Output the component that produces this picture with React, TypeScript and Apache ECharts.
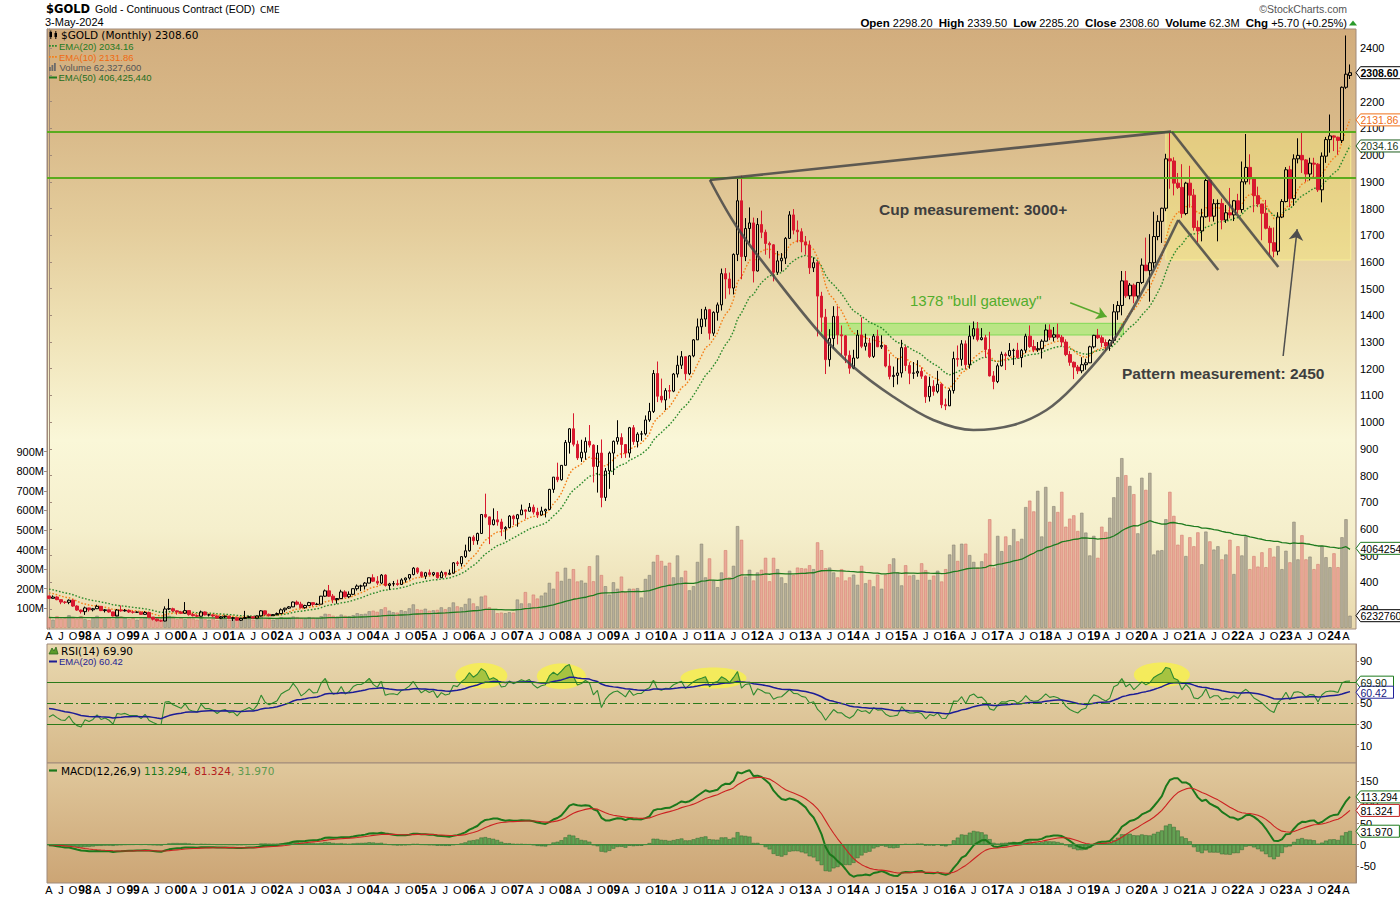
import React, { useEffect, useRef } from "react";
import * as echarts from "echarts";

// ---------- DATA (monthly, $GOLD continuous contract) ----------
// each bar: [open, high, low, close]
type Bar = [number, number, number, number];

const gold1997: Bar[] = [[349,349,337,340],[340,351,339,345],[345,348,333,335],[335,336,318,326],[326,330,319,325],[325,336,318,333],[333,336,308,311],[311,314,293,296],[296,298,283,290]];
const gold1998: Bar[] = [[290,309,278,304],[304,305,290,297],[297,304,291,301],[301,316,300,310],[310,311,292,294],[294,300,287,297],[297,298,286,289],[289,290,272,274],[274,300,273,296],[296,313,290,293],[293,300,290,295],[295,298,285,289]];
const gold1999: Bar[] = [[289,293,283,288],[288,291,285,288],[288,291,278,280],[280,292,279,287],[287,290,267,269],[269,270,257,262],[262,264,253,256],[256,260,252,255],[255,310,254,300],[300,338,296,301],[301,305,289,293],[293,295,279,289]];
const gold2000: Bar[] = [[289,293,281,284],[284,326,282,294],[294,294,275,279],[279,285,272,275],[275,280,270,273],[273,294,272,289],[289,291,276,278],[278,282,272,278],[278,279,269,274],[274,276,264,266],[266,274,263,271],[271,276,266,273]];
const gold2001: Bar[] = [[273,273,262,266],[266,270,255,267],[267,268,256,258],[258,267,255,265],[265,293,264,268],[268,275,266,271],[271,273,264,266],[266,276,265,274],[274,296,272,293],[293,294,276,280],[280,283,272,275],[275,281,274,279]];
const gold2002: Bar[] = [[279,287,277,283],[283,302,282,297],[297,305,288,303],[303,311,300,308],[308,328,307,326],[326,332,314,318],[318,327,302,305],[305,316,301,313],[313,327,311,324],[324,325,310,317],[317,323,315,318],[318,349,318,348]];
const gold2003: Bar[] = [[348,373,346,368],[368,390,345,348],[348,356,322,335],[335,341,320,339],[339,372,337,364],[364,370,343,346],[346,366,341,355],[355,377,352,376],[376,392,369,386],[386,391,367,386],[386,401,373,397],[397,418,397,417]];
const gold2004: Bar[] = [[417,430,401,404],[404,423,390,397],[397,431,393,427],[427,430,384,388],[388,398,372,394],[394,405,385,395],[395,410,387,392],[392,415,390,409],[409,418,399,416],[416,430,410,429],[429,457,426,453],[453,456,431,438]];
const gold2005: Bar[] = [[438,440,417,423],[423,439,412,436],[436,448,425,429],[429,439,423,436],[436,437,414,417],[417,443,416,437],[437,439,418,430],[430,448,428,434],[434,476,433,473],[473,480,461,470],[470,497,459,496],[496,541,491,518]];
const gold2006: Bar[] = [[518,570,515,569],[569,576,540,556],[556,586,541,583],[583,655,582,654],[654,732,640,645],[645,646,543,616],[616,677,613,634],[634,667,612,626],[626,638,573,600],[600,610,560,605],[605,652,603,648],[648,653,614,638]];
const gold2007: Bar[] = [[638,656,608,653],[653,691,653,671],[671,673,638,666],[666,697,665,681],[681,691,654,663],[663,679,641,652],[652,683,650,667],[667,676,643,673],[673,750,671,748],[748,794,735,794],[794,848,775,784],[784,839,781,838]];
const gold2008: Bar[] = [[838,933,838,924],[924,977,882,975],[975,1033,909,917],[917,931,858,866],[866,934,851,887],[887,943,859,928],[928,989,905,914],[914,917,774,834],[834,914,736,884],[884,935,681,718],[718,828,705,817],[817,890,750,884]];
const gold2009: Bar[] = [[884,931,802,928],[928,1007,916,942],[942,958,865,916],[916,918,866,884],[884,982,867,979],[979,989,915,927],[927,962,905,955],[955,967,930,956],[956,1025,950,1008],[1008,1072,1001,1040],[1040,1195,1034,1182],[1182,1227,1075,1097]];
const gold2010: Bar[] = [[1097,1163,1073,1083],[1083,1127,1045,1118],[1118,1139,1088,1116],[1116,1184,1112,1180],[1180,1249,1167,1213],[1213,1266,1199,1245],[1245,1246,1157,1181],[1181,1251,1176,1248],[1248,1311,1243,1308],[1308,1388,1308,1357],[1357,1424,1330,1386],[1386,1432,1357,1421]];
const gold2011: Bar[] = [[1421,1424,1309,1333],[1333,1415,1323,1411],[1411,1448,1380,1439],[1439,1575,1418,1556],[1556,1577,1462,1536],[1536,1560,1478,1502],[1502,1632,1478,1628],[1628,1912,1603,1829],[1829,1923,1535,1620],[1620,1764,1603,1725],[1725,1804,1670,1746],[1746,1766,1523,1566]];
const gold2012: Bar[] = [[1566,1764,1564,1740],[1740,1792,1689,1711],[1711,1721,1627,1669],[1669,1676,1613,1664],[1664,1667,1527,1561],[1561,1641,1552,1604],[1604,1633,1564,1614],[1614,1693,1592,1688],[1688,1790,1686,1776],[1776,1798,1703,1719],[1719,1755,1673,1713],[1713,1726,1636,1675]];
const gold2013: Bar[] = [[1675,1697,1627,1663],[1663,1680,1555,1578],[1578,1617,1562,1597],[1597,1604,1321,1472],[1472,1488,1338,1393],[1393,1424,1180,1234],[1234,1348,1208,1313],[1313,1434,1275,1396],[1396,1434,1291,1327],[1327,1362,1251,1323],[1323,1326,1221,1250],[1250,1268,1181,1202]];
const gold2014: Bar[] = [[1202,1271,1198,1240],[1240,1345,1238,1326],[1326,1392,1277,1284],[1284,1331,1268,1296],[1296,1315,1240,1246],[1246,1330,1240,1322],[1322,1346,1281,1282],[1282,1325,1274,1287],[1287,1289,1205,1210],[1210,1256,1160,1171],[1171,1208,1131,1175],[1175,1239,1141,1184]];
const gold2015: Bar[] = [[1184,1308,1167,1279],[1279,1287,1191,1212],[1212,1224,1142,1183],[1183,1225,1162,1184],[1184,1232,1170,1190],[1190,1205,1162,1172],[1172,1175,1072,1095],[1095,1170,1077,1134],[1134,1157,1099,1115],[1115,1192,1108,1142],[1142,1146,1052,1065],[1065,1088,1045,1061]];
const gold2016: Bar[] = [[1061,1126,1060,1118],[1118,1264,1107,1238],[1238,1287,1208,1235],[1235,1307,1211,1293],[1293,1306,1199,1215],[1215,1362,1200,1322],[1322,1377,1310,1350],[1350,1375,1302,1309],[1309,1352,1306,1316],[1316,1327,1241,1272],[1272,1338,1171,1173],[1173,1191,1123,1152]];
const gold2017: Bar[] = [[1152,1220,1146,1211],[1211,1264,1208,1254],[1254,1261,1195,1249],[1249,1296,1245,1268],[1268,1275,1214,1269],[1269,1297,1237,1242],[1242,1274,1205,1269],[1269,1331,1258,1322],[1322,1362,1278,1283],[1283,1308,1262,1271],[1271,1300,1263,1275],[1275,1310,1238,1303]];
const gold2018: Bar[] = [[1303,1366,1303,1345],[1345,1366,1307,1318],[1318,1356,1302,1327],[1327,1369,1310,1318],[1318,1326,1282,1300],[1300,1310,1247,1253],[1253,1266,1211,1224],[1224,1227,1161,1206],[1206,1214,1180,1192],[1192,1243,1183,1215],[1215,1237,1196,1222],[1222,1286,1221,1282]];
const gold2019: Bar[] = [[1282,1327,1276,1325],[1325,1349,1311,1316],[1316,1325,1281,1298],[1298,1310,1266,1285],[1285,1311,1267,1306],[1306,1442,1295,1413],[1413,1453,1383,1437],[1437,1566,1400,1529],[1529,1566,1465,1473],[1473,1521,1460,1513],[1513,1519,1445,1472],[1472,1525,1462,1523]];
const gold2020: Bar[] = [[1523,1613,1517,1588],[1588,1691,1566,1567],[1567,1704,1451,1597],[1597,1788,1577,1695],[1695,1775,1681,1752],[1752,1803,1671,1801],[1801,2005,1790,1986],[1986,2089,1874,1978],[1978,1992,1849,1895],[1895,1933,1873,1879],[1879,1966,1765,1781],[1781,1900,1775,1895]];
const gold2021: Bar[] = [[1895,1960,1803,1850],[1850,1873,1717,1729],[1729,1755,1673,1716],[1716,1799,1677,1769],[1769,1917,1766,1905],[1905,1919,1750,1771],[1771,1835,1751,1818],[1818,1834,1677,1819],[1819,1837,1722,1757],[1757,1813,1746,1784],[1784,1877,1763,1776],[1776,1832,1753,1829]];
const gold2022: Bar[] = [[1829,1855,1781,1796],[1796,1976,1784,1900],[1900,2079,1890,1954],[1954,2003,1890,1911],[1911,1912,1786,1848],[1848,1882,1805,1817],[1817,1817,1681,1782],[1782,1832,1722,1726],[1726,1735,1626,1672],[1672,1729,1617,1640],[1640,1786,1625,1768],[1768,1835,1764,1826]];
const gold2023: Bar[] = [[1826,1955,1823,1945],[1945,1960,1805,1837],[1837,2003,1810,1986],[1986,2063,1969,1999],[1999,2085,1933,1982],[1982,1985,1900,1929],[1929,1990,1905,1970],[1970,1990,1914,1966],[1966,1970,1862,1870],[1870,2010,1823,1996],[1996,2068,1971,2058],[2058,2152,2009,2072]];
const gold2024: Bar[] = [[2072,2074,2015,2067],[2067,2069,2002,2055],[2055,2257,2045,2254],[2254,2448,2248,2303],[2298.2,2339.5,2285.2,2308.6]];

// monthly volume, millions of contracts
const vol1997 = [55,42,60,48,50,65,52,48,60];
const vol1998 = [45,40,52,62,50,48,55,45,68,58,52,45];
const vol1999 = [50,42,48,55,45,58,52,48,72,62,55,45];
const vol2000 = [52,45,55,48,42,50,45,42,48,40,45,48];
const vol2001 = [42,48,45,40,55,48,42,45,58,50,45,42];
const vol2002 = [48,55,50,52,58,55,50,48,55,52,50,60];
const vol2003 = [72,70,62,58,68,62,60,65,75,70,72,85];
const vol2004 = [88,82,95,105,88,80,78,90,85,100,120,95];
const vol2005 = [92,98,88,90,92,105,95,105,130,110,105,122];
const vol2006 = [150,125,110,160,165,105,95,75,78,75,80,78];
const vol2007 = [145,125,183,125,170,150,165,180,230,200,287,240];
const vol2008 = [307,250,300,237,242,230,315,238,370,270,213,170];
const vol2009 = [233,200,262,183,200,200,203,155,250,270,338,372];
const vol2010 = [342,317,333,258,370,258,292,192,213,337,430,258];
const vol2011 = [355,242,208,283,397,258,317,520,450,262,297,242];
const vol2012 = [283,297,358,238,358,300,258,228,292,270,308,305];
const vol2013 = [303,320,300,437,397,305,308,283,258,300,242,258];
const vol2014 = [272,220,317,228,245,212,272,200,272,325,355,283];
const vol2015 = [217,320,267,270,245,330,295,245,267,292,237,300];
const vol2016 = [375,425,342,430,430,372,337,308,340,380,555,308];
const vol2017 = [470,392,467,422,505,442,455,617,650,595,700,467];
const vol2018 = [720,542,622,592,695,517,558,575,495,588,487,370];
const vol2019 = [470,358,517,490,563,667,770,867,780,725,683,483];
const vol2020 = [767,705,792,375,395,397,555,695,572,425,475,367];
const vol2021 = [463,417,488,325,492,442,400,417,350,375,450,275];
const vol2022 = [417,370,467,300,367,313,386,310,407,364,418,300];
const vol2023 = [394,335,542,350,473,350,364,300,326,420,361,310];
const vol2024 = [381,310,463,555,62.3276];

const OHLC: Bar[] = [
  ...gold1997, ...gold1998, ...gold1999, ...gold2000, ...gold2001, ...gold2002, ...gold2003,
  ...gold2004, ...gold2005, ...gold2006, ...gold2007, ...gold2008, ...gold2009, ...gold2010,
  ...gold2011, ...gold2012, ...gold2013, ...gold2014, ...gold2015, ...gold2016, ...gold2017,
  ...gold2018, ...gold2019, ...gold2020, ...gold2021, ...gold2022, ...gold2023, ...gold2024,
];
const VOLUME_M: number[] = [
  ...vol1997, ...vol1998, ...vol1999, ...vol2000, ...vol2001, ...vol2002, ...vol2003,
  ...vol2004, ...vol2005, ...vol2006, ...vol2007, ...vol2008, ...vol2009, ...vol2010,
  ...vol2011, ...vol2012, ...vol2013, ...vol2014, ...vol2015, ...vol2016, ...vol2017,
  ...vol2018, ...vol2019, ...vol2020, ...vol2021, ...vol2022, ...vol2023, ...vol2024,
];

const FIRST_YEAR = 1997;
const FIRST_MONTH = 4;
const QUARTER_LABELS: Record<string, string> = { "01": "", "04": "A", "07": "J", "10": "O" };

// axis ticks (labels hidden under the value tags are left out, as in the original)
const PRICE_TICKS = [300,400,500,600,700,800,900,1000,1100,1200,1300,1400,1500,1600,1700,1800,1900,2000,2100,2200,2300,2400];
const PRICE_LABELS = [300,400,500,600,700,800,900,1000,1100,1200,1300,1400,1500,1600,1700,1800,1900,2000,2100,2200,2400];
const VOLUME_TICKS = [100,200,300,400,500,600,700,800,900];
const RSI_TICKS = [10,30,50,70,90];
const RSI_LABELS = [10,30,50,90];
const MACD_TICKS = [-50,0,50,100,150];

// indicator starting values read at the left edge of the chart
const SEED = { ema10: 365, ema20: 378, volEma50: 53, ema12: 358, ema26: 358, signal: 0, rsiGain: 4, rsiLoss: 6.8, rsiEma: 46 };

// last values as printed by the chart
const LAST = {
  close: "2308.60", ema20: "2034.16", ema10: "2131.86", volume: "62,327,600", volEma: "406,425,440",
  rsi: "69.90", rsiEma: "60.42", macd: "113.294", signal: "81.324", hist: "31.970",
};
const TAGS = [
  { axis: 0, value: 2308.6, text: "2308.60", stroke: "#000000", fill: "#000000", bold: true },
  { axis: 0, value: 2131.86, text: "2131.86", stroke: "#f07018", fill: "#f07018", bold: false },
  { axis: 0, value: 2034.16, text: "2034.16", stroke: "#1d5e1d", fill: "#1d3a1d", bold: false },
  { axis: 1, value: 406.42544, text: "406425440", stroke: "#1d7a1d", fill: "#000000", bold: false },
  { axis: 1, value: 62.3276, text: "62327600", stroke: "#000000", fill: "#000000", bold: false },
  { axis: 2, value: 69.9, text: "69.90", stroke: "#1d7a1d", fill: "#102a10", bold: false },
  { axis: 2, value: 60.42, text: "60.42", stroke: "#22229a", fill: "#1a1a80", bold: false },
  { axis: 3, value: 113.294, text: "113.294", stroke: "#1d7a1d", fill: "#000000", bold: false },
  { axis: 3, value: 81.324, text: "81.324", stroke: "#c02020", fill: "#000000", bold: false },
  { axis: 3, value: 31.97, text: "31.970", stroke: "#1d7a1d", fill: "#000000", bold: false },
];

// annotations: x = month index (0 = Apr 1997), y = price
const LEVELS = [2088, 1915];
const CUP: [number, number][] = [
  [165.1, 1906.7], [171.8, 1731.8], [181.8, 1532.2], [192.6, 1332.6], [200.9, 1207.5], [210.9, 1095.1],
  [220.9, 1007.9], [230.9, 970.4], [240.9, 989.1], [249.2, 1045.3], [255.9, 1132.6], [265.9, 1307.5],
  [274.2, 1519.9], [282.1, 1756.9],
];
const TRENDLINES: [number, number][][] = [
  [[165.1, 1906.7], [280.3, 2088]],
  [[280.5, 2087.6], [307.1, 1580.9]],
  [[282.1, 1756.9], [292.1, 1569.7]],
];
const PATTERN_ARROW: [number, number][] = [[308.3, 1247.6], [311.8, 1722.6]];
const GATEWAY_ARROW: [number, number][] = [[255.1, 1447], [264.2, 1394.8]];
const GATEWAY_BAND: [number, number][] = [[193.0, 1370], [268.4, 1326.2]];
const PATTERN_BOX: [number, number][] = [[279.0, 2088], [325.2, 1607]];
const RSI_HIGHLIGHTS = [
  { i: 108, v: 76, rx: 26, ry: 12.7 },
  { i: 128, v: 75.4, rx: 24.5, ry: 12.7 },
  { i: 166, v: 73.8, rx: 33, ry: 10.5 },
  { i: 278, v: 76.9, rx: 28, ry: 12.3 },
];

// ---------- derived ----------
const CATEGORIES: string[] = [];
for (let i = 0; i <= OHLC.length; i++) {
  const m = FIRST_MONTH - 1 + i;
  const yr = FIRST_YEAR + Math.floor(m / 12);
  CATEGORIES.push(`${yr}-${String((m % 12) + 1).padStart(2, "0")}`);
}
const closes = OHLC.map((b) => b[3]);
function ema(values: number[], period: number, seed: number): number[] {
  const k = 2 / (period + 1);
  let prev = seed;
  return values.map((v) => (prev = prev + k * (v - prev)));
}
const ema20 = ema(closes, 20, SEED.ema20);
const ema10 = ema(closes, 10, SEED.ema10);
const volEma = ema(VOLUME_M, 50, SEED.volEma50);
const ema12 = ema(closes, 12, SEED.ema12);
const ema26 = ema(closes, 26, SEED.ema26);
const macd = ema12.map((v, i) => v - ema26[i]);
const signal = ema(macd, 9, SEED.signal);
const hist = macd.map((v, i) => v - signal[i]);
const rsi: number[] = [];
{
  let ag = SEED.rsiGain, al = SEED.rsiLoss;
  closes.forEach((c, i) => {
    if (i > 0) {
      const d = c - closes[i - 1];
      ag = (ag * 13 + Math.max(d, 0)) / 14;
      al = (al * 13 + Math.max(-d, 0)) / 14;
    }
    rsi.push(100 - 100 / (1 + ag / al));
  });
}
const rsiEma = ema(rsi, 20, SEED.rsiEma);

const FONT = '"Liberation Sans", Arial, sans-serif';
const VFONT = '"DejaVu Sans", Verdana, sans-serif';
const BORDER = "#a08a7a";

function grad(stops: [number, string][]) {
  return new echarts.graphic.LinearGradient(0, 0, 0, 1, stops.map(([offset, color]) => ({ offset, color })));
}

const xLabel = {
  show: true,
  interval: (_i: number, value: string) => QUARTER_LABELS[value.slice(5)] !== undefined,
  formatter: (value: string) => {
    const mm = value.slice(5);
    return mm === "01" ? `{y|${value.slice(2, 4)}}` : QUARTER_LABELS[mm] || "";
  },
  rich: { y: { fontWeight: "bold", fontSize: 12, fontFamily: FONT, color: "#000" } },
  color: "#000",
  fontSize: 11,
  fontFamily: FONT,
  margin: 1,
};

function rightAxis(gridIndex: number, min: number, max: number, ticks: number[], labels: number[]) {
  return {
    type: "value", gridIndex, position: "right", min, max,
    splitLine: { show: false },
    axisLine: { show: true, lineStyle: { color: BORDER } },
    axisTick: { show: true, length: 3, customValues: ticks, lineStyle: { color: BORDER } },
    axisLabel: { customValues: labels, formatter: (v: number) => String(v), color: "#000", fontSize: 11, fontFamily: FONT, margin: 4 },
  };
}

function buildOption(): any {
  const candleData = OHLC.map(([o, h, l, c]) => [o, c, l, h]);
  const volData = VOLUME_M.map((v, i) => {
    const prev = i === 0 ? OHLC[0][0] : closes[i - 1];
    const up = closes[i] >= prev;
    return { value: v, itemStyle: up ? { color: "#b5ae9a", borderColor: "#8a8574" } : { color: "#e9a999", borderColor: "#d47f6e" } };
  });
  return {
    animation: false,
    backgroundColor: "#ffffff",
    grid: [
      { left: 47, top: 29, width: 1309, height: 600, show: true, outerBoundsMode: "none", borderColor: BORDER, borderWidth: 1,
        backgroundColor: grad([[0, "#d2ad7d"], [0.17, "#d9ba8a"], [0.335, "#e4cd9c"], [0.5, "#efe2b6"], [0.685, "#faf7d8"], [0.835, "#f5efcc"], [1, "#e9d9ad"]]) },
      { left: 47, top: 644, width: 1309, height: 119, show: true, outerBoundsMode: "none", borderColor: BORDER, borderWidth: 1,
        backgroundColor: grad([[0, "#e9d9b0"], [1, "#d6b98a"]]) },
      { left: 47, top: 763, width: 1309, height: 120, show: true, outerBoundsMode: "none", borderColor: BORDER, borderWidth: 1,
        backgroundColor: grad([[0, "#e0c89c"], [1, "#cca575"]]) },
    ],
    xAxis: [
      { type: "category", gridIndex: 0, data: CATEGORIES, axisLine: { show: false }, axisTick: { show: false }, splitLine: { show: false }, axisLabel: xLabel },
      { type: "value", gridIndex: 0, min: -0.5, max: CATEGORIES.length - 0.5, show: false },
      { type: "category", gridIndex: 1, data: CATEGORIES, axisLine: { show: false }, axisTick: { show: false }, axisLabel: { show: false } },
      { type: "category", gridIndex: 2, data: CATEGORIES, axisLine: { show: false }, axisTick: { show: false }, splitLine: { show: false }, axisLabel: xLabel },
    ],
    yAxis: [
      rightAxis(0, 225.1, 2472.3, PRICE_TICKS, PRICE_LABELS),
      {
        type: "value", gridIndex: 0, position: "left", min: -5.6, max: 3059,
        splitLine: { show: false },
        axisLine: { show: true, lineStyle: { color: BORDER } },
        axisTick: { show: true, length: 3, customValues: VOLUME_TICKS, lineStyle: { color: BORDER } },
        axisLabel: { customValues: VOLUME_TICKS, formatter: (v: number) => `${v}M`, color: "#000", fontSize: 11, fontFamily: FONT, margin: 3 },
      },
      rightAxis(1, -6.2, 105.8, RSI_TICKS, RSI_LABELS),
      rightAxis(2, -90.9, 193.8, MACD_TICKS, MACD_TICKS),
    ],
    series: [
      {
        name: "areas", type: "line", xAxisIndex: 1, yAxisIndex: 0, data: [[0, 1000]], symbol: "none",
        lineStyle: { width: 0, opacity: 0 }, silent: true, z: 1,
        markArea: {
          silent: true, label: { show: false },
          data: [
            [{ coord: PATTERN_BOX[0], itemStyle: { color: "rgba(250,238,110,0.32)", borderColor: "rgba(250,245,150,0.8)", borderWidth: 1 } }, { coord: PATTERN_BOX[1] }],
            [{ coord: GATEWAY_BAND[0], itemStyle: { color: "rgba(150,232,100,0.6)", borderColor: "rgba(120,215,80,0.9)", borderWidth: 1 } }, { coord: GATEWAY_BAND[1] }],
          ],
        },
      },
      { name: "Volume", type: "bar", xAxisIndex: 0, yAxisIndex: 1, data: volData, barWidth: "82%", itemStyle: { borderWidth: 0.6 }, z: 2 },
      { name: "Volume EMA(50)", type: "line", xAxisIndex: 0, yAxisIndex: 1, data: volEma, symbol: "none", lineStyle: { color: "#1e7b1e", width: 1.3 }, z: 2 },
      {
        name: "$GOLD", type: "candlestick", xAxisIndex: 0, yAxisIndex: 0, data: candleData, barWidth: 3,
        itemStyle: { color: "rgba(0,0,0,0)", color0: "#d8192f", borderColor: "#000000", borderColor0: "#d8192f", borderWidth: 1 }, z: 3,
      },
      { name: "EMA(20)", type: "line", xAxisIndex: 0, yAxisIndex: 0, data: ema20, symbol: "none", lineStyle: { color: "#2b8a2b", width: 1.4, type: [1.6, 1.8] }, z: 3 },
      { name: "EMA(10)", type: "line", xAxisIndex: 0, yAxisIndex: 0, data: ema10, symbol: "none", lineStyle: { color: "#f4801a", width: 1.4, type: [1.6, 1.8] }, z: 3 },
      {
        name: "levels", type: "line", xAxisIndex: 1, yAxisIndex: 0, data: [[0, 1000]], symbol: "none", lineStyle: { width: 0, opacity: 0 }, z: 4, silent: true,
        markLine: { silent: true, symbol: ["none", "none"], label: { show: false }, lineStyle: { color: "#5aab1e", width: 2, type: "solid" }, data: LEVELS.map((y) => ({ yAxis: y })) },
      },
      { name: "cup", type: "line", xAxisIndex: 1, yAxisIndex: 0, data: CUP, smooth: 0.35, symbol: "none", lineStyle: { color: "#464646", width: 2.6, opacity: 0.85 }, z: 5, silent: true },
      { name: "trend", type: "lines", coordinateSystem: "cartesian2d", xAxisIndex: 1, yAxisIndex: 0, data: TRENDLINES.map((c) => ({ coords: c })), lineStyle: { color: "#464646", width: 2.6, opacity: 0.85 }, z: 5, silent: true },
      { name: "patternArrow", type: "lines", coordinateSystem: "cartesian2d", xAxisIndex: 1, yAxisIndex: 0, data: [{ coords: PATTERN_ARROW }], symbol: ["none", "arrow"], symbolSize: 11, lineStyle: { color: "#4e4e4e", width: 1.5, opacity: 1 }, z: 5, silent: true },
      { name: "gatewayArrow", type: "lines", coordinateSystem: "cartesian2d", xAxisIndex: 1, yAxisIndex: 0, data: [{ coords: GATEWAY_ARROW }], symbol: ["none", "arrow"], symbolSize: 10, lineStyle: { color: "#58a82c", width: 1.5, opacity: 1 }, z: 5, silent: true },
      // RSI panel
      { name: "rsiFill", type: "line", xAxisIndex: 2, yAxisIndex: 2, data: rsi.map((v) => Math.max(v, 70)), symbol: "none", lineStyle: { width: 0, opacity: 0 }, areaStyle: { origin: 70, color: "rgba(95,160,40,0.75)" }, z: 2, silent: true },
      {
        name: "RSI(14)", type: "line", xAxisIndex: 2, yAxisIndex: 2, data: rsi, symbol: "none", lineStyle: { color: "#2f8a2f", width: 1.1 }, z: 3,
        markLine: {
          silent: true, symbol: ["none", "none"], label: { show: false }, lineStyle: { color: "#2a7a1a", width: 1.2, type: "solid" },
          data: [{ yAxis: 70 }, { yAxis: 30 }, { yAxis: 50, lineStyle: { type: [9, 3, 2, 3] } }],
        },
      },
      { name: "RSI EMA(20)", type: "line", xAxisIndex: 2, yAxisIndex: 2, data: rsiEma, symbol: "none", lineStyle: { color: "#1c1c96", width: 1.5 }, z: 3 },
      // MACD panel
      {
        name: "hist", type: "bar", xAxisIndex: 3, yAxisIndex: 3, data: hist, barWidth: "96%", itemStyle: { color: "#63a153", borderColor: "#2f6a2f", borderWidth: 0.5 }, z: 2,
        markLine: { silent: true, symbol: ["none", "none"], label: { show: false }, lineStyle: { color: "#3c8a3c", width: 1, type: "solid" }, data: [{ yAxis: 0 }] },
      },
      { name: "MACD", type: "line", xAxisIndex: 3, yAxisIndex: 3, data: macd, symbol: "none", lineStyle: { color: "#1b781b", width: 2 }, z: 3 },
      { name: "Signal", type: "line", xAxisIndex: 3, yAxisIndex: 3, data: signal, symbol: "none", lineStyle: { color: "#cc2222", width: 1.1 }, z: 3 },
    ],
  };
}

function txt(x: number, y: number, text: string, font: string, fill: string, align = "left", extra: any = {}) {
  return { type: "text", x, y, z: 100, silent: true, style: { text, font, fill, align, textAlign: align, verticalAlign: "middle", textVerticalAlign: "middle", ...extra } };
}

function buildGraphics(chart: any): any[] {
  const toY = (axis: number, v: number) => chart.convertToPixel({ yAxisIndex: axis }, v) as number;
  const toXY = (xa: number, ya: number, p: [number, number]) => chart.convertToPixel({ xAxisIndex: xa, yAxisIndex: ya }, p) as number[];
  const g: any[] = [];

  // header
  g.push(txt(46, 9, "$GOLD", `bold 11.5px ${VFONT}`, "#000"));
  g.push(txt(95, 9, "Gold - Continuous Contract (EOD)", `10.5px ${FONT}`, "#000"));
  g.push(txt(260, 10, "CME", `9px ${VFONT}`, "#000"));
  g.push(txt(45, 22, "3-May-2024", `11px ${FONT}`, "#000"));
  g.push(txt(1347, 9, "\u00A9StockCharts.com", `10.5px ${FONT}`, "#555", "right"));
  g.push({
    type: "text", x: 1347, y: 23, z: 100, silent: true,
    style: {
      text: "{b|Open} 2298.20  {b|High} 2339.50  {b|Low} 2285.20  {b|Close} 2308.60  {b|Volume} 62.3M  {b|Chg} +5.70 (+0.25%)",
      font: `11px ${FONT}`, fill: "#000", align: "right", textAlign: "right", verticalAlign: "middle", textVerticalAlign: "middle",
      rich: { b: { fontWeight: "bold", fontSize: 11.5, fontFamily: FONT, fill: "#000", color: "#000" } },
    },
  });
  g.push({ type: "polygon", z: 100, silent: true, shape: { points: [[1349, 25.5], [1353, 20.5], [1357, 25.5]] }, style: { fill: "#2a9a2a" } });

  // main legend
  g.push({ type: "rect", z: 100, silent: true, shape: { x: 49.5, y: 32, width: 2.5, height: 5 }, style: { fill: "#000" } });
  g.push({ type: "line", z: 100, silent: true, shape: { x1: 50.8, y1: 30.5, x2: 50.8, y2: 39 }, style: { stroke: "#000", lineWidth: 1 } });
  g.push({ type: "rect", z: 100, silent: true, shape: { x: 54.5, y: 33, width: 2.5, height: 4 }, style: { fill: "#000" } });
  g.push({ type: "line", z: 100, silent: true, shape: { x1: 55.8, y1: 31, x2: 55.8, y2: 39 }, style: { stroke: "#000", lineWidth: 1 } });
  g.push(txt(61, 35, `$GOLD (Monthly) ${LAST.close}`, `10.5px ${VFONT}`, "#000"));
  [[46, "#2b8a2b"], [57, "#f4801a"]].forEach(([y, c]: any) => {
    [49, 52, 55].forEach((x) => g.push({ type: "rect", z: 100, silent: true, shape: { x, y: y - 1, width: 1.8, height: 1.8 }, style: { fill: c } }));
  });
  g.push(txt(59, 46, `EMA(20) ${LAST.ema20}`, `9.5px ${FONT}`, "#1f7a1f"));
  g.push(txt(59, 57, `EMA(10) ${LAST.ema10}`, `9.5px ${FONT}`, "#f06a10"));
  [[49, 4], [51.5, 6], [54, 8]].forEach(([x, h]) => g.push({ type: "rect", z: 100, silent: true, shape: { x, y: 71 - h, width: 1.8, height: h }, style: { fill: "#6b6b6b" } }));
  g.push(txt(59.5, 67.5, `Volume ${LAST.volume}`, `9.5px ${FONT}`, "#555"));
  g.push({ type: "line", z: 100, silent: true, shape: { x1: 49, y1: 77.5, x2: 57, y2: 77.5 }, style: { stroke: "#1e7b1e", lineWidth: 2 } });
  g.push(txt(58.5, 77.5, `EMA(50) ${LAST.volEma}`, `9.5px ${FONT}`, "#1e6e1e"));

  // RSI legend
  g.push({ type: "polygon", z: 100, silent: true, shape: { points: [[49, 654], [52, 648], [54, 651], [56, 647], [58, 654]] }, style: { fill: "#5a9a2a", stroke: "#2a6a1a", lineWidth: 0.8 } });
  g.push(txt(61, 650.5, `RSI(14) ${LAST.rsi}`, `10.5px ${VFONT}`, "#000"));
  g.push({ type: "line", z: 100, silent: true, shape: { x1: 49, y1: 661.5, x2: 57, y2: 661.5 }, style: { stroke: "#1c1c96", lineWidth: 2 } });
  g.push(txt(59, 661.5, `EMA(20) ${LAST.rsiEma}`, `9.5px ${FONT}`, "#1c1c96"));

  // MACD legend
  g.push({ type: "line", z: 100, silent: true, shape: { x1: 49, y1: 770.5, x2: 57, y2: 770.5 }, style: { stroke: "#1b781b", lineWidth: 2.2 } });
  g.push({
    type: "text", x: 61, y: 771, z: 100, silent: true,
    style: {
      text: `MACD(12,26,9) {g|${LAST.macd}}{r|, ${LAST.signal}}{h|, ${LAST.hist}}`,
      font: `10.5px ${VFONT}`, fill: "#000", align: "left", verticalAlign: "middle", textVerticalAlign: "middle",
      rich: {
        g: { fill: "#1b781b", color: "#1b781b", fontSize: 10.5, fontFamily: VFONT },
        r: { fill: "#b42020", color: "#b42020", fontSize: 10.5, fontFamily: VFONT },
        h: { fill: "#5f9a4f", color: "#5f9a4f", fontSize: 10.5, fontFamily: VFONT },
      },
    },
  });

  // annotation texts
  g.push(txt(879, 209.5, "Cup measurement: 3000+", `bold 15.5px ${FONT}`, "#3e3e3e"));
  g.push(txt(910, 300.5, '1378 "bull gateway"', `15px ${FONT}`, "#52ad2c"));
  g.push(txt(1122, 373.5, "Pattern measurement: 2450", `bold 15.5px ${FONT}`, "#3e3e3e"));

  // RSI highlight ellipses
  RSI_HIGHLIGHTS.forEach((h) => {
    const [cx, cy] = toXY(2, 2, [h.i, h.v]);
    g.push({ type: "ellipse", z: 1, silent: true, shape: { cx, cy, rx: h.rx, ry: h.ry }, style: { fill: "rgba(248,242,70,0.78)" } });
  });

  // value tags on the right edge
  TAGS.forEach((t) => {
    const y = toY(t.axis, t.value);
    const x0 = 1356;
    const w = t.text.length * 5.9 + 8;
    g.push({
      type: "polygon", z: 110, silent: true,
      shape: { points: [[x0, y], [x0 + 4.5, y - 6], [x0 + w, y - 6], [x0 + w, y + 6], [x0 + 4.5, y + 6]] },
      style: { fill: "#ffffff", stroke: t.stroke, lineWidth: 1 },
    });
    g.push({ ...txt(x0 + 4.5, y + 0.5, t.text, `${t.bold ? "bold " : ""}10.5px ${FONT}`, t.fill), z: 111 });
  });
  return g;
}

export default function App() {
  const ref = useRef<HTMLDivElement>(null);
  useEffect(() => {
    const el = ref.current;
    if (!el) return;
    const chart = echarts.init(el, null, { renderer: "svg" });
    chart.setOption(buildOption());
    chart.setOption({ graphic: buildGraphics(chart) });
    return () => chart.dispose();
  }, []);
  return <div ref={ref} style={{ position: "absolute", left: 0, top: 0, width: 1400, height: 900, background: "#ffffff" }} />;
}
